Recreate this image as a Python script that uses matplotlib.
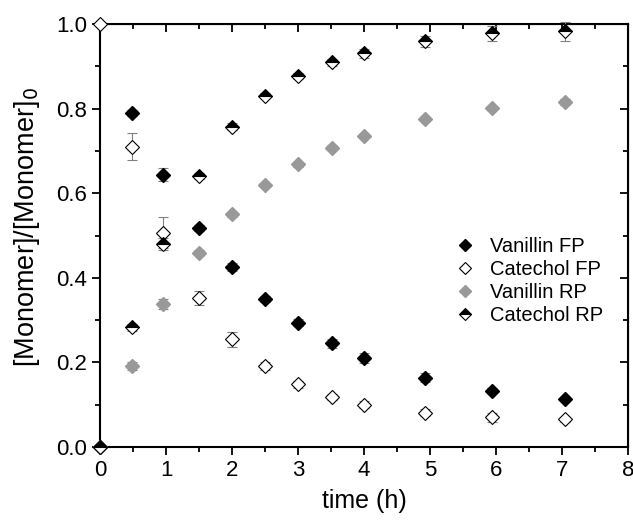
import matplotlib
matplotlib.use('Agg')
from matplotlib import pyplot as plt
from matplotlib.ticker import MultipleLocator

plt.rcParams['font.family'] = ['Liberation Sans', 'DejaVu Sans']

# sampling times (h)
t = [0, 0.48, 0.95, 1.5, 2.0, 2.5, 3.0, 3.52, 4.0, 4.93, 5.94, 7.05]

vanillin_fp = [0.0, 0.79, 0.644, 0.518, 0.425, 0.350, 0.294, 0.245, 0.211, 0.164, 0.133, 0.113]
vanillin_fp_err = [0, 0.008, 0.015, 0.008, 0.010, 0.008, 0.008, 0.010, 0.012, 0.010, 0.006, 0.005]

catechol_fp = [1.0, 0.71, 0.507, 0.353, 0.255, 0.191, 0.148, 0.119, 0.100, 0.081, 0.070, 0.066]
catechol_fp_err = [0, 0.032, 0.036, 0.017, 0.018, 0.010, 0.008, 0.007, 0.008, 0.008, 0.010, 0.006]

vanillin_rp = [0.0, 0.191, 0.338, 0.459, 0.550, 0.619, 0.668, 0.708, 0.736, 0.775, 0.802, 0.816]
vanillin_rp_err = [0, 0.010, 0.012, 0.006, 0.005, 0.005, 0.005, 0.005, 0.005, 0.005, 0.005, 0.008]

catechol_rp = [0.0, 0.283, 0.480, 0.641, 0.757, 0.831, 0.877, 0.910, 0.931, 0.959, 0.978, 0.983]
catechol_rp_err = [0, 0.008, 0.015, 0.008, 0.008, 0.006, 0.008, 0.008, 0.010, 0.012, 0.018, 0.022]

fig = plt.figure(figsize=(6.33, 5.24), dpi=100)
ax = fig.add_axes([0.158, 0.147, 0.834, 0.807])

common = dict(ls='none', marker='D', ms=7, capsize=3.5, elinewidth=0.8,
              capthick=0.8, ecolor='#808080', clip_on=False, zorder=3)

ax.errorbar(t, vanillin_fp, yerr=vanillin_fp_err, mfc='black', mec='black',
            label='Vanillin FP', **common)
ax.errorbar(t, catechol_fp, yerr=catechol_fp_err, mfc='white', mec='black',
            mew=0.8, label='Catechol FP', **common)
ax.errorbar(t, vanillin_rp, yerr=vanillin_rp_err, mfc='#999999', mec='#999999',
            label='Vanillin RP', **common)
ax.errorbar(t, catechol_rp, yerr=catechol_rp_err, mfc='black', mfcalt='white',
            fillstyle='top', mec='black', mew=0.8, label='Catechol RP', **common)

ax.set_xlim(0, 8)
ax.set_ylim(0, 1.0)
ax.xaxis.set_major_locator(MultipleLocator(1))
ax.xaxis.set_minor_locator(MultipleLocator(0.5))
ax.yaxis.set_major_locator(MultipleLocator(0.2))
ax.yaxis.set_minor_locator(MultipleLocator(0.1))
ax.yaxis.set_major_formatter(plt.FormatStrFormatter('%.1f'))

ax.tick_params(which='both', direction='out', top=False, right=False, labelsize=16, width=1.3)
ax.tick_params(which='major', length=6)
ax.tick_params(which='minor', length=3.5)
for s in ax.spines.values():
    s.set_linewidth(1.5)

# mirrored inward ticks on top and right
secx = ax.secondary_xaxis('top')
secx.xaxis.set_major_locator(MultipleLocator(1))
secx.xaxis.set_minor_locator(MultipleLocator(0.5))
secx.tick_params(which='both', direction='in', labeltop=False, width=1.3)
secx.tick_params(which='major', length=6)
secx.tick_params(which='minor', length=3.5)
secy = ax.secondary_yaxis('right')
secy.yaxis.set_major_locator(MultipleLocator(0.2))
secy.yaxis.set_minor_locator(MultipleLocator(0.1))
secy.tick_params(which='both', direction='in', labelright=False, width=1.3)
secy.tick_params(which='major', length=6)
secy.tick_params(which='minor', length=3.5)

ax.set_xlabel('time (h)', fontsize=18, labelpad=6)
ax.set_ylabel('[Monomer]/[Monomer]$_0$', fontsize=19.5)
ax.yaxis.set_label_coords(-0.11, 0.52)

handles, labels = ax.get_legend_handles_labels()
handles = [h[0] for h in handles]
ax.legend(handles, labels, loc='upper left', bbox_to_anchor=(0.635, 0.54),
          frameon=False, fontsize=14.5, handletextpad=0.6, labelspacing=0.2,
          handlelength=1.2, markerscale=0.85)

fig.savefig('out.png', dpi=100)
